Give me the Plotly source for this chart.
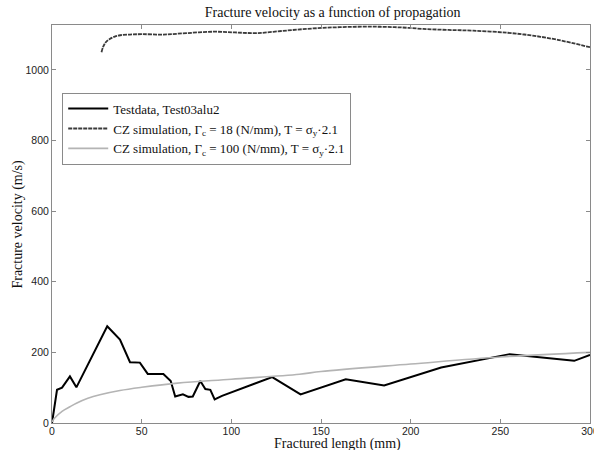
import plotly.graph_objects as go

# Test data (black)
test_x = [0, 2.8, 5.6, 10, 13.6, 30.8, 37.9, 43.5, 49, 53.4, 62.1, 66.2, 68.7, 73, 76.1, 78.5,
          82.7, 85.5, 88.3, 90.7, 94.8, 122.8, 138.6, 163.8, 185.2, 217, 255.2, 291.2, 300]
test_y = [0, 94, 100, 132, 101, 274, 236, 172, 171, 139, 139, 119, 75, 81, 74, 75,
          119, 96, 94, 67, 77, 130, 81, 124, 106, 157, 195, 176, 193]

# CZ simulation Gamma_c = 18
cz18_x = [27.6, 28.5, 30, 32, 35, 38, 43.5, 50, 62, 75, 90, 102, 114, 128, 142, 156, 170, 183,
          195, 207, 221, 235, 254, 268, 282, 300]
cz18_y = [1050, 1065, 1078, 1087, 1094, 1098, 1100, 1101, 1100, 1104, 1108, 1106, 1104, 1110,
          1116, 1120, 1122, 1122, 1120, 1116, 1113, 1111, 1105, 1097, 1085, 1064]

# CZ simulation Gamma_c = 100
cz100_x = [0, 1.5, 5.6, 10, 13.6, 20, 26.7, 37.9, 50, 70, 100, 138, 150, 200, 250, 300]
cz100_y = [3, 14, 33, 46, 56, 70, 80, 92, 101, 113, 124, 138, 146, 167, 187, 200]

x_ticks = [0, 50, 100, 150, 200, 250, 300]
y_ticks = [0, 200, 400, 600, 800, 1000]

serif = "Liberation Serif, DejaVu Serif, serif"
sans = "Liberation Sans, Arial, sans-serif"

fig = go.Figure()
fig.add_trace(go.Scatter(x=test_x, y=test_y, mode="lines", name="Testdata, Test03alu2",
                         line=dict(color="black", width=2)))
fig.add_trace(go.Scatter(x=cz18_x, y=cz18_y, mode="lines", line_shape="spline",
                         name="CZ simulation, Γ<sub>c</sub> = 18 (N/mm), T = σ<sub>y</sub>·2.1",
                         line=dict(color="#3a3a3a", width=1.8, dash="4px,1px")))
fig.add_trace(go.Scatter(x=cz100_x, y=cz100_y, mode="lines", line_shape="spline",
                         name="CZ simulation, Γ<sub>c</sub> = 100 (N/mm), T = σ<sub>y</sub>·2.1",
                         line=dict(color="#b4b4b4", width=1.6)))

axis_common = dict(showline=True, linecolor="#8a8a8a", linewidth=1, mirror="ticks",
                   ticks="inside", ticklen=4, tickcolor="#8a8a8a", showgrid=False,
                   zeroline=False, tickfont=dict(family=sans, size=10.5, color="#222"),
                   ticklabeloverflow="allow", automargin=False)

fig.update_xaxes(range=[0, 300], tickvals=x_ticks, ticklabelstandoff=-2, **axis_common)
fig.update_yaxes(range=[0, 1127], tickvals=y_ticks, **axis_common)

fig.add_annotation(text="Fractured length (mm)", xref="paper", yref="paper",
                   x=0.531, y=-0.053, xanchor="center", yanchor="middle", showarrow=False,
                   font=dict(family=serif, size=14, color="#111"))
fig.add_annotation(text="Fracture velocity (m/s)", xref="paper", yref="paper",
                   x=-0.064, y=0.5, xanchor="center", yanchor="middle", showarrow=False,
                   textangle=-90, font=dict(family=serif, size=14, color="#111"))

fig.update_layout(
    width=594, height=450,
    margin=dict(l=52, r=4, t=25, b=27),
    paper_bgcolor="white", plot_bgcolor="white",
    title=dict(text="Fracture velocity as a function of propagation",
               font=dict(family=serif, size=14, color="#111"),
               x=0.56, xanchor="center", y=0.985, yanchor="top"),
    legend=dict(x=0.019, y=0.83, xanchor="left", yanchor="top",
                bgcolor="white", bordercolor="#8a8a8a", borderwidth=1,
                font=dict(family=serif, size=13, color="#111"),
                tracegroupgap=0, itemwidth=40),
)

fig.write_html("out.html")
